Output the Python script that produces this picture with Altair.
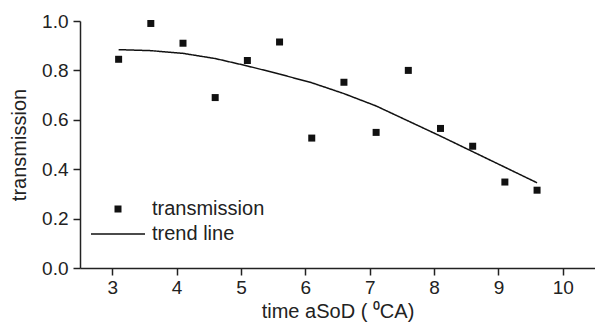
import altair as alt
import pandas as pd

# measured points
time_pts = [3.1, 3.6, 4.1, 4.6, 5.1, 5.6, 6.1, 6.6, 7.1, 7.6, 8.1, 8.6, 9.1, 9.6]
trans_pts = [0.845, 0.99, 0.91, 0.69, 0.84, 0.915, 0.526, 0.752, 0.549, 0.80, 0.565, 0.493, 0.348, 0.315]

# trend line
time_trend = [3.1, 3.6, 4.1, 4.6, 5.1, 5.6, 6.1, 6.6, 7.1, 7.6, 8.1, 8.6, 9.1, 9.6]
trans_trend = [0.884, 0.880, 0.869, 0.848, 0.818, 0.785, 0.750, 0.706, 0.656, 0.595, 0.534, 0.471, 0.408, 0.345]

x_ticks = [3, 3.5, 4, 4.5, 5, 5.5, 6, 6.5, 7, 7.5, 8, 8.5, 9, 9.5, 10]
y_ticks = [0.0, 0.1, 0.2, 0.3, 0.4, 0.5, 0.6, 0.7, 0.8, 0.9, 1.0]

pts = pd.DataFrame({"t": time_pts, "v": trans_pts, "series": "transmission"})
trend = pd.DataFrame({"t": time_trend, "v": trans_trend, "series": "trend line"})

FONT = "Liberation Sans"

x_axis = alt.Axis(
    values=x_ticks,
    labelExpr="datum.value % 1 === 0 ? format(datum.value, 'd') : ''",
    tickSize={"condition": {"test": "datum.value % 1 === 0", "value": 7}, "value": 4},
    grid=False, domainColor="#222", tickColor="#222", domainWidth=1.5, tickWidth=1.5,
    labelFontSize=19, labelFont=FONT, labelColor="#222", labelPadding=3,
    titleFontSize=20, titleFont=FONT, titleFontWeight="normal", titleColor="#222",
    titlePadding=4,
)
y_axis = alt.Axis(
    values=y_ticks,
    labelExpr="round(datum.value*10) % 2 === 0 ? format(datum.value, '.1f') : ''",
    tickSize={"condition": {"test": "round(datum.value*10) % 2 === 0", "value": 7}, "value": 4},
    grid=False, domainColor="#222", tickColor="#222", domainWidth=1.5, tickWidth=1.5,
    labelFontSize=19, labelFont=FONT, labelColor="#222", labelPadding=5,
    titleFontSize=20, titleFont=FONT, titleFontWeight="normal", titleColor="#222",
    titlePadding=12,
)

xs = alt.Scale(domain=[2.5, 10.5], nice=False, zero=False)
ys = alt.Scale(domain=[0, 1.0], nice=False)

points = alt.Chart(pts).mark_point(filled=True, opacity=1, color="#111").encode(
    x=alt.X("t:Q", scale=xs, axis=x_axis, title="time aSoD ( \u2070CA)"),
    y=alt.Y("v:Q", scale=ys, axis=y_axis, title="transmission"),
    shape=alt.Shape(
        "series:N",
        scale=alt.Scale(domain=["transmission"], range=["square"]),
        legend=alt.Legend(
            title=None, orient="none", legendX=28, legendY=178,
            labelFontSize=20, labelFont=FONT, labelColor="#222",
            symbolSize=49, symbolFillColor="#111", symbolStrokeColor="#111",
            labelOffset=24, padding=0,
        ),
    ),
    size=alt.value(49),
)

line = alt.Chart(trend).mark_line(color="#111", strokeWidth=1.5).encode(
    x=alt.X("t:Q", scale=xs),
    y=alt.Y("v:Q", scale=ys),
    strokeDash=alt.StrokeDash(
        "series:N",
        scale=alt.Scale(domain=["trend line"], range=[[1, 0]]),
        legend=alt.Legend(
            title=None, orient="none", legendX=10, legendY=185,
            labelFontSize=20, labelFont=FONT, labelColor="#222",
            symbolType="stroke", symbolSize=2916, symbolStrokeColor="#111",
            symbolStrokeWidth=1.5, labelOffset=6, padding=0,
        ),
    ),
)

chart = (
    alt.layer(points, line)
    .properties(
        width=515, height=247,
        padding={"left": 80, "top": 21, "right": 0, "bottom": 63},
        autosize=alt.AutoSizeParams(type="none"),
        background="white",
    )
    .configure_view(stroke=None)
)

chart.save("out.html", embed_options={"renderer": "svg", "actions": False})
